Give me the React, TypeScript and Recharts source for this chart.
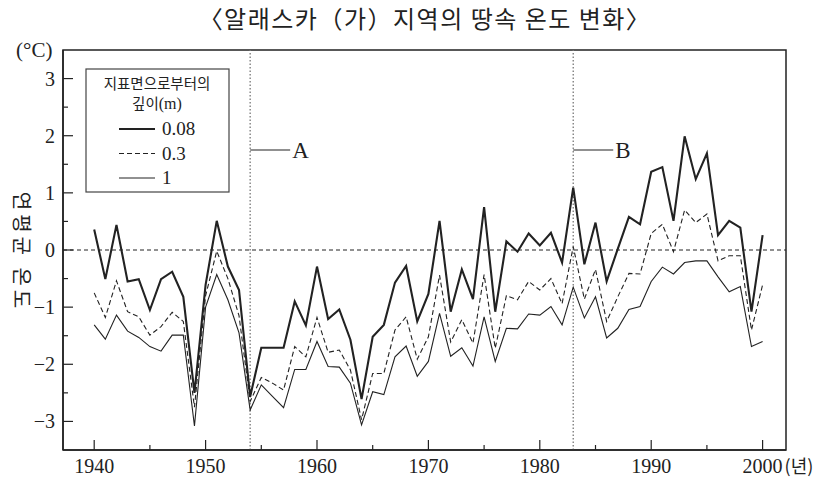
import React from "react"
import { LineChart, Line, XAxis, YAxis, ReferenceLine, ReferenceArea } from "recharts"

const years = [
  1940, 1941, 1942, 1943, 1944, 1945, 1946, 1947, 1948, 1949,
  1950, 1951, 1952, 1953, 1954, 1955, 1956, 1957, 1958, 1959,
  1960, 1961, 1962, 1963, 1964, 1965, 1966, 1967, 1968, 1969,
  1970, 1971, 1972, 1973, 1974, 1975, 1976, 1977, 1978, 1979,
  1980, 1981, 1982, 1983, 1984, 1985, 1986, 1987, 1988, 1989,
  1990, 1991, 1992, 1993, 1994, 1995, 1996, 1997, 1998, 1999, 2000,
]

// depth 0.08 m
const depth008 = [
  0.36, -0.51, 0.44, -0.55, -0.51, -1.05, -0.51, -0.38, -0.82, -2.5,
  -0.61, 0.51, -0.29, -0.7, -2.57, -1.71, -1.71, -1.71, -0.9, -1.32,
  -0.29, -1.21, -1.04, -1.57, -2.61, -1.52, -1.31, -0.57, -0.28, -1.25,
  -0.77, 0.51, -1.08, -0.34, -0.86, 0.75, -1.08, 0.15, -0.03, 0.29,
  0.08, 0.3, -0.22, 1.09, -0.25, 0.48, -0.55, 0.02, 0.58, 0.45,
  1.37, 1.45, 0.51, 1.99, 1.24, 1.69, 0.26, 0.51, 0.39, -1.08, 0.26,
]

// depth 0.3 m
const depth03 = [
  -0.75, -1.18, -0.54, -1.08, -1.17, -1.49, -1.34, -1.09, -1.25, -2.75,
  -0.8, -0.02, -0.5, -1.15, -2.65, -2.23, -2.33, -2.45, -1.69, -1.87,
  -1.18, -1.79, -1.75, -2.1, -2.97, -2.16, -2.16, -1.4, -1.17, -1.91,
  -1.52, -0.44, -1.61, -1.22, -1.63, -0.43, -1.72, -0.8, -0.87, -0.55,
  -0.7, -0.5, -0.94, 0.06, -0.86, -0.34, -1.25, -0.82, -0.41, -0.42,
  0.29, 0.45, -0.03, 0.7, 0.48, 0.63, -0.19, -0.1, -0.1, -1.4, -0.61,
]

// depth 1 m
const depth1 = [
  -1.31, -1.56, -1.14, -1.42, -1.53, -1.69, -1.77, -1.49, -1.49, -3.08,
  -1.0, -0.43, -0.87, -1.45, -2.8, -2.36, -2.56, -2.76, -2.09, -2.09,
  -1.6, -2.04, -2.05, -2.33, -3.06, -2.48, -2.53, -1.87, -1.68, -2.21,
  -1.95, -1.11, -1.86, -1.71, -2.03, -1.17, -1.95, -1.37, -1.38, -1.12,
  -1.14, -0.99, -1.31, -0.65, -1.19, -0.82, -1.54, -1.37, -1.04, -0.99,
  -0.55, -0.3, -0.42, -0.22, -0.19, -0.19, -0.47, -0.73, -0.64, -1.69, -1.6,
]

const xTicks = [1940, 1945, 1950, 1955, 1960, 1965, 1970, 1975, 1980, 1985, 1990, 1995, 2000]
const yTicks = [-3.5, -3, -2.5, -2, -1.5, -1, -0.5, 0, 0.5, 1, 1.5, 2, 2.5, 3, 3.5]
const markers = [
  { year: 1954, label: "A" },
  { year: 1983, label: "B" },
]

const data = years.map((year, i) => ({
  year,
  d008: depth008[i],
  d03: depth03[i],
  d1: depth1[i],
}))

const serif = "'Liberation Serif', 'DejaVu Serif', serif"
const sans = "'Noto Sans CJK KR', 'Noto Sans', sans-serif"
const ink = "#222"

function XTick(props: any) {
  const { x, y, payload } = props
  const v = payload.value
  const major = v % 10 === 0
  return (
    <g>
      <line x1={x} x2={x} y1={y} y2={y - (major ? 10 : 5)} stroke={ink} strokeWidth={1.2} />
      {major && (
        <text x={x} y={y + 23} textAnchor="middle" fontFamily={serif} fontSize={20} fill={ink}>
          {v}
        </text>
      )}
      {v === 2000 && (
        <text x={x + 22} y={y + 23} textAnchor="start" fontFamily={sans} fontSize={18} fill={ink}>
          (년)
        </text>
      )}
    </g>
  )
}

function YTick(props: any) {
  const { x, y, payload } = props
  const v = payload.value
  if (Math.abs(v) === 3.5) return <g />
  const major = Number.isInteger(v)
  return (
    <g>
      <line x1={x} x2={x + (major ? 10 : 5)} y1={y} y2={y} stroke={ink} strokeWidth={1.2} />
      {major && (
        <text x={x - 8} y={y + 7} textAnchor="end" fontFamily={serif} fontSize={20} fill={ink}>
          {v < 0 ? `\u2212${Math.abs(v)}` : v}
        </text>
      )}
    </g>
  )
}

function MarkerLabel(props: any) {
  const { viewBox, value } = props
  const x = viewBox.x
  const y = 150
  return (
    <g>
      <line x1={x} x2={x + 40} y1={y} y2={y} stroke={ink} strokeWidth={1.2} />
      <text x={x + 42} y={y + 8} fontFamily={serif} fontSize={23} fill={ink}>
        {value}
      </text>
    </g>
  )
}

function LegendBox() {
  const rows = [
    { label: "0.08", width: 2, dash: undefined },
    { label: "0.3", width: 1.1, dash: "5 3" },
    { label: "1", width: 1, dash: undefined },
  ]
  return (
    <svg width={146} height={126} style={{ position: "absolute", left: 85, top: 68 }}>
      <rect x={1} y={1} width={143} height={123} fill="#fff" stroke="#444" strokeWidth={1.2} />
      <text x={72} y={21} textAnchor="middle" fontFamily={sans} fontSize={14.5} fill={ink}>
        지표면으로부터의
      </text>
      <text x={72} y={41} textAnchor="middle" fontFamily={sans} fontSize={14.5} fill={ink}>
        깊이<tspan fontFamily={serif} fontSize={16}>(m)</tspan>
      </text>
      {rows.map((r, i) => (
        <g key={r.label}>
          <line x1={34} x2={70} y1={61 + i * 24.5} y2={61 + i * 24.5} stroke={ink} strokeWidth={r.width} strokeDasharray={r.dash} />
          <text x={77} y={67 + i * 24.5} fontFamily={serif} fontSize={19} fill={ink}>
            {r.label}
          </text>
        </g>
      ))}
    </svg>
  )
}

export default function App() {
  return (
    <div style={{ position: "absolute", left: 0, top: 0, width: 839, height: 484, background: "#fff" }}>
      <div
        style={{
          position: "absolute",
          left: 0,
          top: 0,
          width: 850,
          textAlign: "center",
          fontFamily: sans,
          fontSize: 24,
          letterSpacing: 1.5,
          color: ink,
          whiteSpace: "nowrap",
        }}
      >
        〈알래스카（가）지역의 땅속 온도 변화〉
      </div>
      <div style={{ position: "absolute", left: 16, top: 38, fontFamily: serif, fontSize: 21, color: ink }}>
        (°C)
      </div>
      <div
        style={{
          position: "absolute",
          left: 22,
          top: 252,
          transform: "translate(-50%, -50%) rotate(90deg)",
          fontFamily: sans,
          fontSize: 20,
          letterSpacing: 4,
          color: ink,
          whiteSpace: "nowrap",
        }}
      >
        연평균 온도
      </div>
      <LineChart width={839} height={484} data={data} margin={{ top: 50, right: 53, left: 0, bottom: 0 }}>
        <XAxis
          dataKey="year"
          type="number"
          domain={[1937.2, 2002.1]}
          ticks={xTicks}
          allowDataOverflow
          height={34}
          tickSize={0}
          tickMargin={0}
          tickLine={false}
          axisLine={{ stroke: ink, strokeWidth: 1.5 }}
          tick={<XTick />}
          interval={0}
        />
        <YAxis
          type="number"
          domain={[-3.5, 3.5]}
          ticks={yTicks}
          allowDataOverflow
          width={63}
          tickSize={0}
          tickMargin={0}
          tickLine={false}
          axisLine={{ stroke: ink, strokeWidth: 1.5 }}
          tick={<YTick />}
          interval={0}
        />
        <ReferenceArea x1={1937.2} x2={2002.1} y1={-3.5} y2={3.5} fill="none" stroke={ink} strokeWidth={1.5} ifOverflow="visible" />
        <ReferenceLine y={0} stroke={ink} strokeWidth={1} strokeDasharray="4 3" />
        {markers.map((m) => (
          <ReferenceLine
            key={m.label}
            x={m.year}
            stroke="#777"
            strokeWidth={1.3}
            strokeDasharray="1.5 2"
            label={<MarkerLabel value={m.label} />}
          />
        ))}
        <Line dataKey="d1" stroke={ink} strokeWidth={1.1} dot={false} isAnimationActive={false} type="linear" />
        <Line dataKey="d03" stroke={ink} strokeWidth={1.1} strokeDasharray="5 3" dot={false} isAnimationActive={false} type="linear" />
        <Line dataKey="d008" stroke={ink} strokeWidth={2.1} dot={false} isAnimationActive={false} type="linear" />
      </LineChart>
      <LegendBox />
    </div>
  )
}
